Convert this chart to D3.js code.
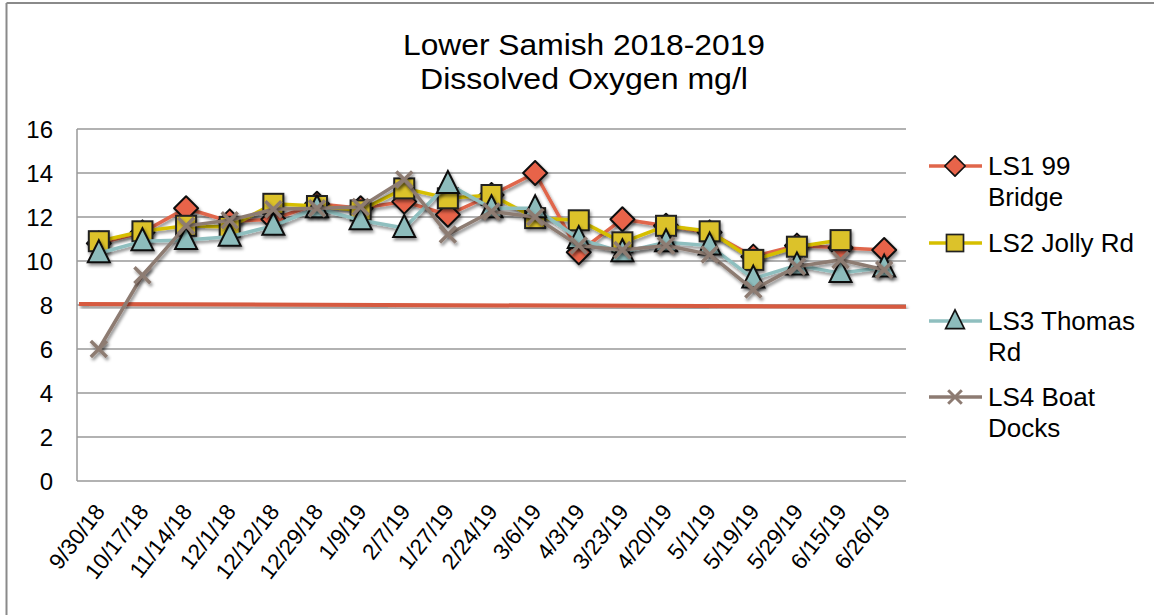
<!DOCTYPE html>
<html><head><meta charset="utf-8">
<script src="https://cdn.jsdelivr.net/npm/d3@7"></script>
<style>
body{margin:0;background:#fff;}
text{font-family:"Liberation Sans",Arial,sans-serif;fill:#000;}
</style></head>
<body>
<svg id="chart" width="1154" height="615"></svg>
<script>
const categories = ["9/30/18","10/17/18","11/14/18","12/1/18","12/12/18","12/29/18","1/9/19","2/7/19","1/27/19","2/24/19","3/6/19","4/3/19","3/23/19","4/20/19","5/1/19","5/19/19","5/29/19","6/15/19","6/26/19"];
const ls1 = [10.8,11.3,12.4,11.8,11.9,12.6,12.4,12.7,12.1,13.0,14.0,10.4,11.9,11.6,11.3,10.2,10.7,10.6,10.5];
const ls2 = [10.9,11.35,11.6,11.55,12.6,12.5,12.3,13.3,12.85,13.0,11.95,11.85,10.85,11.6,11.35,10.05,10.65,10.95,null];
const ls3 = [10.35,10.9,10.95,11.1,11.6,12.4,11.85,11.5,13.5,12.4,12.4,11.0,10.4,10.85,10.7,9.2,9.8,9.45,9.7];
const ls4 = [6.0,9.35,11.6,11.85,12.35,12.4,12.45,13.7,11.2,12.25,12.0,10.7,10.5,10.7,10.3,8.7,9.75,10.05,9.6];
const seriesNames = ["LS1 99 Bridge","LS2 Jolly Rd","LS3 Thomas Rd","LS4 Boat Docks"];
const yTicks = [0,2,4,6,8,10,12,14,16];
const thresholdStart = 8.05, thresholdEnd = 7.92;
const titleLines = ["Lower Samish 2018-2019","Dissolved Oxygen mg/l"];

const svg = d3.select("#chart");
const defs = svg.append("defs");
const f = defs.append("filter").attr("id","shadow").attr("x","-50%").attr("y","-50%").attr("width","200%").attr("height","200%");
f.append("feDropShadow").attr("dx",1.5).attr("dy",2.5).attr("stdDeviation",1.6).attr("flood-color","#000").attr("flood-opacity",0.45);

// outer frame (top and left visible)
svg.append("line").attr("x1",6.5).attr("x2",1154).attr("y1",3).attr("y2",3).attr("stroke","#8a8a8a").attr("stroke-width",2);
svg.append("line").attr("x1",6.5).attr("x2",6.5).attr("y1",3).attr("y2",615).attr("stroke","#8a8a8a").attr("stroke-width",2);

const L = 77, R = 906, T = 129, B = 481;
const x = d3.scaleBand().domain(categories).range([L,R]);
const y = d3.scaleLinear().domain([0,16]).range([B,T]);
const cx = c => x(c) + x.bandwidth()/2;

// title
const titleW = [362, 328];
svg.append("g").selectAll("text").data(titleLines).join("text")
  .attr("x",584).attr("y",(d,i)=>55+i*34).attr("text-anchor","middle")
  .attr("font-size",29).attr("textLength",(d,i)=>titleW[i]).attr("lengthAdjust","spacingAndGlyphs").text(d=>d);

// gridlines
svg.append("g").selectAll("line").data(yTicks).join("line")
  .attr("x1",L).attr("x2",R).attr("y1",d=>y(d)).attr("y2",d=>y(d))
  .attr("stroke","#999").attr("stroke-width",1.5);
svg.append("line").attr("x1",L).attr("x2",L).attr("y1",T).attr("y2",B).attr("stroke","#999").attr("stroke-width",1.5);

// y labels
const yAxis = d3.axisLeft(y).tickValues(yTicks).tickSize(0).tickPadding(0);
const ya = svg.append("g").attr("transform",`translate(${L-24},0)`).call(yAxis);
ya.select(".domain").remove();
ya.selectAll("text").attr("font-size",24).attr("font-family","Liberation Sans, Arial, sans-serif").attr("fill","#000").attr("dy","0.35em");

// x labels
svg.append("g").selectAll("text").data(categories).join("text")
  .attr("transform",d=>`translate(${cx(d)+1},${B+26}) rotate(-52)`)
  .attr("text-anchor","end").attr("dy","0.35em").attr("font-size",22.5).text(d=>d);

// threshold line
svg.append("line").attr("x1",L+2).attr("x2",R).attr("y1",y(thresholdStart)).attr("y2",y(thresholdEnd))
  .attr("stroke","#d65a3f").attr("stroke-width",4).attr("filter","url(#shadow)");

const cfg = [
  {data:ls1,color:"#e0664b",marker:"diamond",fill:"#e8644a"},
  {data:ls2,color:"#d6bf00",marker:"square",fill:"#dcc22a"},
  {data:ls3,color:"#8fbfbf",marker:"triangle",fill:"#8dbcbc"},
  {data:ls4,color:"#8d7b72",marker:"x",fill:"#8d7b72"}
];
const line = d3.line().defined(d=>d.v!=null).x(d=>cx(d.c)).y(d=>y(d.v));

function drawMarker(g, type, fill){
  if(type==="diamond"){
    g.append("path").attr("d","M0,-12 L12,0 L0,12 L-12,0 Z")
     .attr("fill",fill).attr("stroke","#111").attr("stroke-width",2).attr("stroke-linejoin","round");
  } else if(type==="square"){
    g.append("rect").attr("x",-10).attr("y",-10).attr("width",20).attr("height",20)
     .attr("fill",fill).attr("stroke","#222").attr("stroke-width",2);
  } else if(type==="triangle"){
    g.append("path").attr("d","M0,-13 L11,9 L-11,9 Z").attr("fill",fill).attr("stroke","#111").attr("stroke-width",2);
  } else {
    g.append("path").attr("d","M-8,-8 L8,8 M-8,8 L8,-8").attr("stroke",fill).attr("stroke-width",3.5).attr("fill","none");
  }
}

cfg.forEach((s,si)=>{
  const pts = categories.map((c,i)=>({c,v:s.data[i]}));
  svg.append("path").datum(pts).attr("d",line).attr("fill","none")
    .attr("stroke",s.color).attr("stroke-width",3.5).attr("filter","url(#shadow)");
  const mg = svg.append("g").attr("filter","url(#shadow)");
  pts.filter(d=>d.v!=null).forEach(d=>{
    const g = mg.append("g").attr("transform",`translate(${cx(d.c)},${y(d.v)})`);
    drawMarker(g, s.marker, s.fill);
  });
});

// legend
const legY = [166,243,321,397];
const legText = [["LS1 99","Bridge"],["LS2 Jolly Rd"],["LS3 Thomas","Rd"],["LS4 Boat","Docks"]];
cfg.forEach((s,i)=>{
  const g = svg.append("g").attr("transform",`translate(0,${legY[i]})`);
  g.append("line").attr("x1",929).attr("x2",982).attr("y1",0).attr("y2",0).attr("stroke",s.color).attr("stroke-width",3.5);
  const mg = g.append("g").attr("transform","translate(955,0) scale(0.85)");
  drawMarker(mg, s.marker, s.fill);
  legText[i].forEach((t,j)=>{
    g.append("text").attr("x",988).attr("y",j*31).attr("dy","0.36em").attr("font-size",26).text(t);
  });
});
</script>
</body></html>
